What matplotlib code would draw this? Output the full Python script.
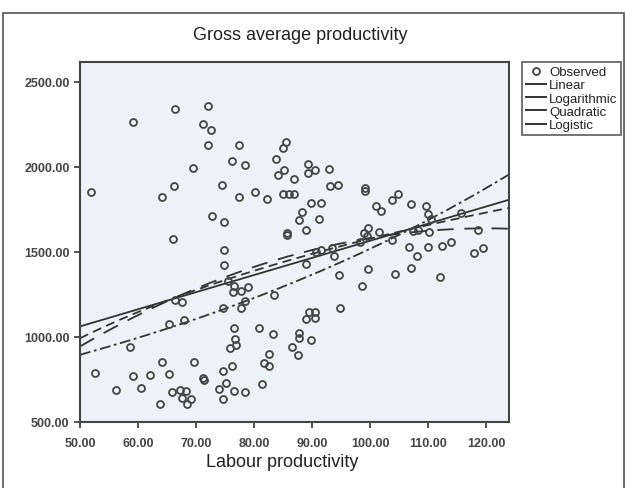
import numpy as np
import matplotlib
matplotlib.use("Agg")
import matplotlib.pyplot as plt
from matplotlib.patches import Rectangle
from matplotlib.lines import Line2D

plt.rcParams['font.family'] = ['Liberation Sans', 'DejaVu Sans']

labour = [51.9, 59.2, 66.4, 72.1, 71.2, 72.6, 72.1, 69.5, 66.2, 64.2, 74.4, 72.8, 74.8, 66.1,
          77.4, 76.2, 78.4, 77.4, 80.1, 82.2, 85.5, 84.9, 83.8, 85.2, 84.1, 86.9, 85.0, 86.0,
          86.8, 89.2, 89.2, 90.4, 92.9, 93.1, 94.5, 89.8, 91.5, 88.2, 87.8, 91.1, 85.7, 85.7,
          89.0, 99.1, 99.1,
          104.7, 103.7, 101.0, 101.8, 107.0, 109.6, 110.0, 110.4, 115.7, 118.5, 110.2, 99.0,
          99.6, 101.5, 99.5, 103.7, 107.3, 108.2, 106.6, 108.0, 110.0, 112.3, 113.9, 117.8,
          119.4, 99.6, 104.2, 107.0, 112.1, 98.3,
          90.7, 91.6, 93.4, 89.0, 93.7, 94.7, 98.6, 94.8,
          76.5, 76.3, 77.8, 75.5, 79.0, 78.4, 77.7, 74.7, 83.5, 89.5, 90.5, 89.0, 90.5, 76.5,
          80.9, 83.2, 76.7, 76.9, 75.9, 87.7, 87.8, 89.8, 86.5, 87.6, 82.6, 81.7, 82.5, 76.2,
          74.7, 75.1, 76.6, 78.4, 81.3, 74.7, 74.0,
          74.8, 74.8, 67.6, 66.3, 65.3, 68.0, 58.6, 52.6, 56.2, 59.2, 60.5, 62.1, 64.1, 65.4,
          63.8, 65.9, 67.2, 68.2, 67.6, 69.1, 68.4, 69.7, 71.2, 71.3]
gross = [1849, 2262, 2340, 2355, 2252, 2213, 2130, 1994, 1886, 1824, 1890, 1713, 1674, 1577,
         2130, 2033, 2010, 1820, 1853, 1812, 2145, 2110, 2043, 1981, 1950, 1927, 1837, 1840,
         1840, 2016, 1962, 1981, 1988, 1884, 1894, 1787, 1787, 1735, 1688, 1690, 1600, 1612,
         1626, 1860, 1875,
         1840, 1807, 1767, 1738, 1781, 1771, 1724, 1690, 1726, 1628, 1616, 1613,
         1642, 1616, 1594, 1570, 1622, 1628, 1526, 1477, 1529, 1535, 1560, 1491,
         1522, 1398, 1370, 1403, 1351, 1560,
         1500, 1512, 1520, 1430, 1473, 1364, 1297, 1169,
         1300, 1264, 1268, 1331, 1291, 1213, 1167, 1167, 1248, 1144, 1148, 1105, 1109, 1055,
         1055, 1016, 988, 950, 934, 1025, 993, 983, 940, 892, 901, 847, 827, 828,
         799, 727, 683, 677, 721, 634, 696,
         1510, 1423, 1206, 1218, 1078, 1100, 938, 789, 688, 773, 700, 779, 851, 781,
         605, 677, 686, 683, 640, 634, 605, 855, 760, 748]

# fitted curve coefficients (estimated from the drawn lines)
linear_coef = [558.0, 10.07]            # b0 + b1*x
log_coef = [-2310.6, 844.2]             # b0 + b1*ln(x)
quad_coef = [-401.8, 34.0, -0.1417]     # b0 + b1*x + b2*x^2
logistic_coef = [0.001895, 0.98949]     # 1 / (b0 * b1**x)

x_ticks = [50, 60, 70, 80, 90, 100, 110, 120]
y_ticks = [500, 1000, 1500, 2000, 2500]
x_range = (50, 123.9)
y_range = (500, 2615)

ink = '#333333'

fig = plt.figure(figsize=(6.26, 4.89), dpi=100)
fig.patches.append(Rectangle((3 / 626, -0.05), 621 / 626, 1.05 - 14 / 489,
                             transform=fig.transFigure, fill=False,
                             edgecolor='#555555', lw=1.2))

ax = fig.add_axes([80 / 626, 66 / 489, 429 / 626, 360 / 489])
ax.set_facecolor('#eef1f5')

ax.plot(labour, gross, 'o', ms=5, mfc='none', mec='#444444', mew=1.3, zorder=3)

xs = np.linspace(x_range[0], x_range[1], 300)
ax.plot(xs, linear_coef[0] + linear_coef[1] * xs, color=ink, lw=1.3, ls='-')
ax.plot(xs, log_coef[0] + log_coef[1] * np.log(xs), color=ink, lw=1.3, ls=(0, (5, 3)))
ax.plot(xs, quad_coef[0] + quad_coef[1] * xs + quad_coef[2] * xs ** 2, color=ink, lw=1.3,
        ls=(0, (9, 6)))
ax.plot(xs, 1 / (logistic_coef[0] * logistic_coef[1] ** xs), color=ink, lw=1.3,
        ls=(0, (6, 2, 1.5, 2)))

ax.set_xlim(*x_range)
ax.set_ylim(*y_range)
ax.set_xticks(x_ticks)
ax.set_xticklabels([f'{v:.2f}' for v in x_ticks], fontweight='bold')
ax.set_yticks(y_ticks)
ax.set_yticklabels([f'{v:.2f}' for v in y_ticks], fontweight='bold')
ax.tick_params(direction='out', length=4, width=1.2, color='#333333', labelsize=9,
               labelcolor='#444444')
ax.tick_params(axis='x', pad=7)
for s in ax.spines.values():
    s.set_color('#444444')
    s.set_linewidth(1.5)

fig.text(300 / 626, 1 - 36 / 489, 'Gross average productivity', ha='center', va='center',
         fontsize=13, color='#222222')
fig.text(282 / 626, 1 - 463 / 489, 'Labour productivity', ha='center', va='center',
         fontsize=13, color='#222222')

handles = [Line2D([], [], marker='o', ls='none', ms=5, mfc='none', mec='#444444', mew=1.3),
           Line2D([], [], color=ink, lw=1.4),
           Line2D([], [], color=ink, lw=1.4),
           Line2D([], [], color=ink, lw=1.4),
           Line2D([], [], color=ink, lw=1.4)]
labels = ['Observed', 'Linear', 'Logarithmic', 'Quadratic', 'Logistic']
leg = fig.legend(handles, labels, loc='upper left', bbox_to_anchor=(522 / 626, 1 - 63 / 489),
                 fontsize=9.5, frameon=True, fancybox=False, handlelength=1.5,
                 handletextpad=0.25, labelspacing=0.08, borderpad=0.3, borderaxespad=0)
leg.get_frame().set_edgecolor('#444444')
leg.get_frame().set_linewidth(1.3)
for t in leg.get_texts():
    t.set_color('#222222')

fig.savefig('out.png', dpi=100)
